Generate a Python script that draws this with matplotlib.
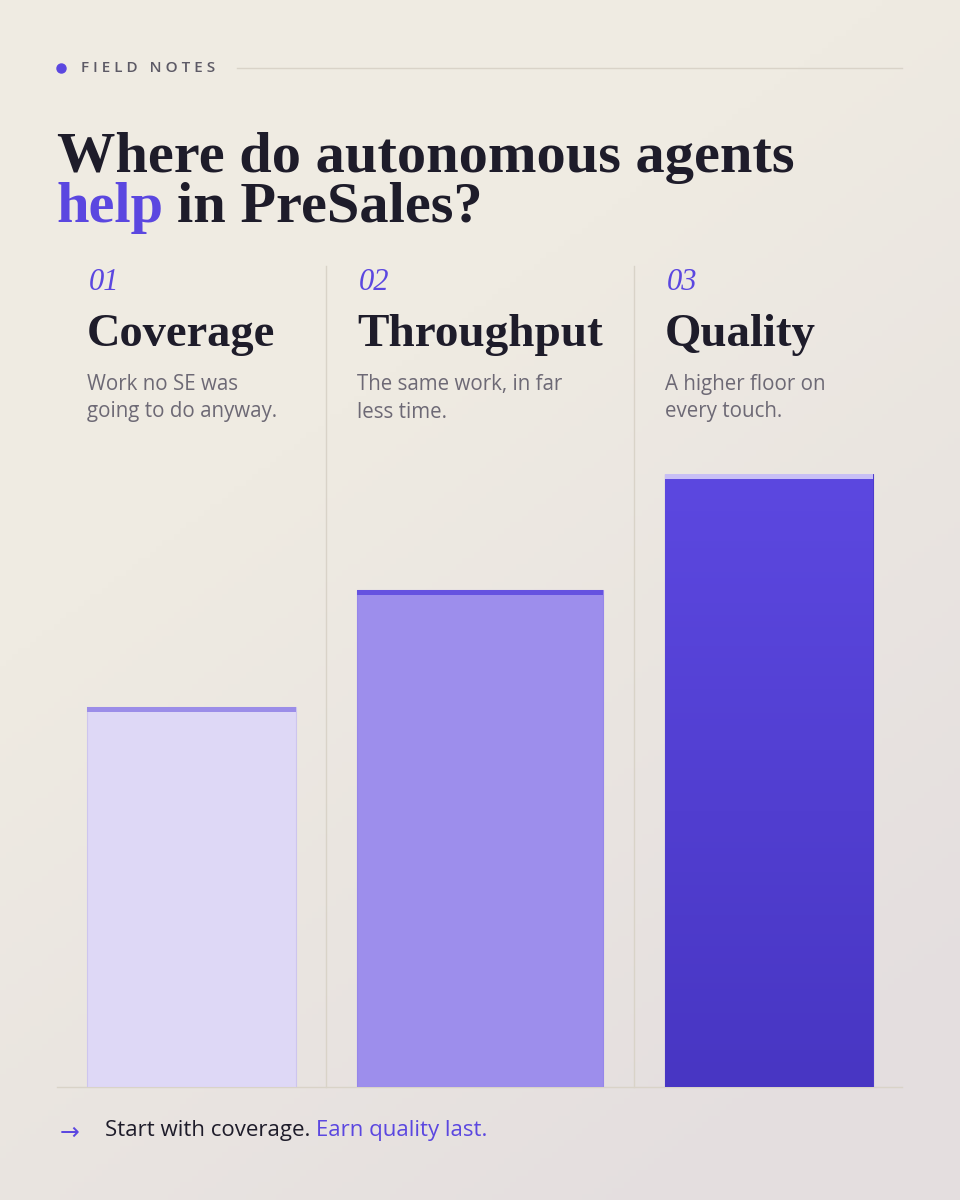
import matplotlib
matplotlib.use("Agg")
import matplotlib.pyplot as plt
import numpy as np
from matplotlib.colors import LinearSegmentedColormap

# data
categories = ["Coverage", "Throughput", "Quality"]
numbers = ["01", "02", "03"]
blurbs = ["Work no SE was\ngoing to do anyway.",
          "The same work, in far\nless time.",
          "A higher floor on\nevery touch."]
values = [0.62, 0.81, 1.0]

# colours
INK = "#1e1c2a"
PURPLE = "#5b47e0"
GREY = "#6d6975"
RULE = "#d9d3c8"
body_cols = ["#ded8f6", "#9d8eec", "#5a46de"]
cap_cols = ["#9b8de8", "#6552e0", "#c8bff5"]

W, H = 960, 1200
fig = plt.figure(figsize=(9.6, 12), dpi=100)

# background with soft gradient
bg = fig.add_axes([0, 0, 1, 1])
bg.set_axis_off()
yy, xx = np.mgrid[0:1:200j, 0:1:160j]
t = np.clip((xx * 0.6 + yy * 1.0 - 0.55) / 0.9, 0, 1)
bg_cmap = LinearSegmentedColormap.from_list("bg", ["#efebe2", "#e4dedf"])
bg.imshow(t, cmap=bg_cmap, extent=[0, W, H, 0], aspect="auto", vmin=0, vmax=1)
bg.set_xlim(0, W)
bg.set_ylim(H, 0)

# text overlay in pixel coords
ov = fig.add_axes([0, 0, 1, 1])
ov.set_axis_off()
ov.set_xlim(0, W)
ov.set_ylim(H, 0)
ov.patch.set_alpha(0)

SERIF = ["Liberation Serif", "DejaVu Serif"]
SANS = ["Open Sans", "DejaVu Sans"]


def width_px(txt):
    fig.canvas.draw()
    bb = txt.get_window_extent().transformed(ov.transData.inverted())
    return bb.x0, bb.x1


def fit(txt, target):
    # scale font so the text spans the target width in pixels
    x0, x1 = width_px(txt)
    txt.set_fontsize(txt.get_fontsize() * target / (x1 - x0))


# header
ov.plot([61], [68], "o", color=PURPLE, ms=6.5)
ov.text(81, 68, "F I E L D   N O T E S", fontsize=11, color="#5d5a66",
        family=SANS, va="center", fontweight="semibold")
ov.plot([237, 902], [68, 68], color=RULE, lw=1)

# title
t0 = ov.text(57, 172, "Where do autonomous agents", fontsize=44, fontweight="bold",
             color=INK, family=SERIF, va="baseline")
fit(t0, 738)
tsize = t0.get_fontsize()
t1 = ov.text(57, 222, "help", fontsize=tsize, fontweight="bold",
             color=PURPLE, family=SERIF, va="baseline")
x0, x1 = width_px(t1)
ov.text(x1 + 13, 222, "in PreSales?", fontsize=tsize, fontweight="bold",
        color=INK, family=SERIF, va="baseline")

# columns layout (pixels)
col_left = [87, 357, 665]
bar_right = [296, 603, 873]
head_w = [188, 246, 151]
seps = [326, 634]
base_y = 1087
top_y = 474

for x in seps:
    ov.plot([x, x], [266, base_y], color=RULE, lw=1)
ov.plot([57, 902], [base_y, base_y], color=RULE, lw=1)

for i in range(3):
    x = col_left[i]
    ov.text(x + 2, 290, numbers[i], fontsize=22, style="italic", color=PURPLE,
            family=SERIF, va="baseline")
    h = ov.text(x, 346, categories[i], fontsize=34, fontweight="bold", color=INK,
                family=SERIF, va="baseline")
    fit(h, head_w[i])
    for j, line in enumerate(blurbs[i].split("\n")):
        ov.text(x, 390 + 27.5 * j, line, fontsize=14.8, color=GREY,
                family=SANS, va="baseline")

# footer
ov.text(60, 1133, "\u2192", fontsize=17, color=PURPLE, family=["DejaVu Sans"],
        va="center")
f1 = ov.text(105, 1136, "Start with coverage.", fontsize=16, color=INK,
             family=SANS, va="baseline")
x0, x1 = width_px(f1)
ov.text(x1 + 6, 1136, "Earn quality last.", fontsize=16, color=PURPLE,
        family=SANS, va="baseline", fontweight="medium")

# bars
ax = fig.add_axes([57 / W, 1 - base_y / H, (902 - 57) / W, (base_y - top_y) / H])
ax.set_axis_off()
ax.patch.set_alpha(0)
centers = [(l + r) / 2 for l, r in zip(col_left, bar_right)]
widths = [r - l for l, r in zip(col_left, bar_right)]
cap = 5 / (base_y - top_y)

bars = ax.bar(centers, values, width=widths, color=body_cols,
              edgecolor=["#cdc5ee", "#9686ea", "#4d3bcc"], lw=0.8, zorder=2)
ax.bar(centers, [cap] * 3, bottom=[v - cap for v in values], width=widths,
       color=cap_cols, lw=0, zorder=3)

# gradient fill for the last bar, lighter at the top
q = bars[2]
grad = np.linspace(0, 1, 100).reshape(-1, 1)
qcmap = LinearSegmentedColormap.from_list("q", ["#5c48e0", "#4836c3"])
im = ax.imshow(grad, cmap=qcmap, aspect="auto", zorder=2.5, origin="upper",
               extent=[q.get_x(), q.get_x() + q.get_width(), 0, q.get_height()])
im.set_clip_path(q)
ax.set_xlim(57, 902)
ax.set_ylim(0, 1.0)

fig.savefig("out.png", dpi=100)
